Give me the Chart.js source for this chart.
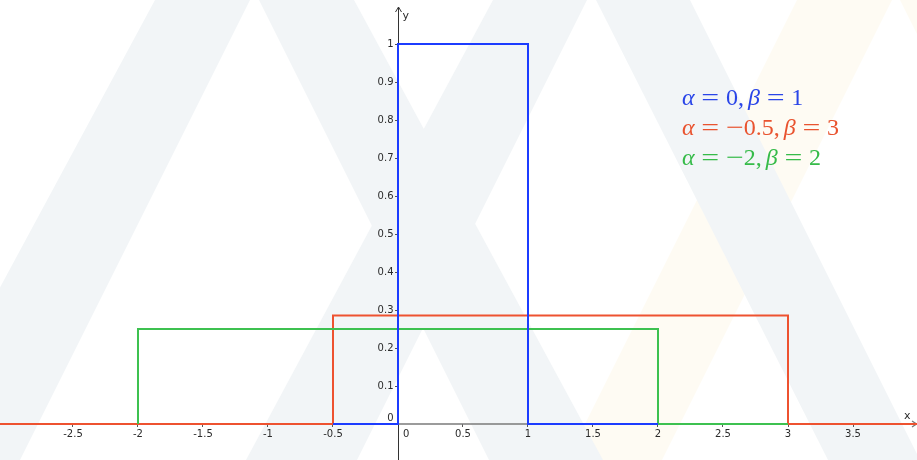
<!DOCTYPE html>
<html>
<head>
<meta charset="utf-8">
<script src="https://cdn.jsdelivr.net/npm/chart.js@4.4.1/dist/chart.umd.min.js"></script>
<style>
  html, body { margin: 0; padding: 0; background: #ffffff; }
  #wrap { width: 917px; height: 460px; position: relative; }
</style>
</head>
<body>
<div id="wrap"><canvas id="c"></canvas></div>
<script>
// ---- data ----
const seriesLabels = ['α = 0, β = 1', 'α = −0.5, β = 3', 'α = −2, β = 2'];
const alphaValues = [0, -0.5, -2];
const betaValues = [1, 3, 2];
// breakpoints of each drawn density path (x, y)
const blueX  = [-0.5, 0, 0, 1, 1, 2];
const blueY  = [0, 0, 1, 1, 0, 0];
const redX   = [-3.2, -0.5, -0.5, 3, 3, 4.2];
const redY   = [0, 0, 0.2857, 0.2857, 0, 0];
const greenX = [-2, -2, 2, 2, 3];
const greenY = [0, 0.25, 0.25, 0, 0];
const xTickValues = [-3, -2.5, -2, -1.5, -1, -0.5, 0, 0.5, 1, 1.5, 2, 2.5, 3, 3.5];
const yTickValues = [0, 0.1, 0.2, 0.3, 0.4, 0.5, 0.6, 0.7, 0.8, 0.9, 1];
const xRange = [-3.0615, 3.9923];
const yRange = [-0.0947, 1.1158];

// ---- styles ----
const lineColors = ['#1c3cff', '#ee5230', '#3dc150'];
const textColors = ['#2a45e8', '#e9532f', '#36bb49'];
const axisText = '#2b2b2b';
const tickFont = '10px "DejaVu Sans"';

function pts(xs, ys) { return xs.map((x, i) => ({ x: x, y: ys[i] })); }

const watermark = {
  id: 'watermark',
  beforeDraw(chart) {
    const ctx = chart.ctx, H = chart.height;
    ctx.save();
    ctx.fillStyle = '#ffffff';
    ctx.fillRect(0, 0, chart.width, H);
    // [topLeft, topRight, bottomRight, bottomLeft] x-positions at y=0 and y=H
    const cream = [[797, 892, 662, 567], [900, 995, 1225, 1130]];
    const gray = [[155, 250, 20, -93], [259, 354, 603, 489], [493, 587, 357, 246], [596, 690, 920, 828]];
    function band(b, col) {
      ctx.fillStyle = col;
      ctx.beginPath();
      ctx.moveTo(b[0], 0); ctx.lineTo(b[1], 0); ctx.lineTo(b[2], H); ctx.lineTo(b[3], H);
      ctx.closePath(); ctx.fill();
    }
    cream.forEach(b => band(b, '#fefbf3'));
    gray.forEach(b => band(b, '#f2f5f7'));
    ctx.restore();
  }
};

const axesPlugin = {
  id: 'axesPlugin',
  beforeDatasetsDraw(chart) {
    const ctx = chart.ctx, xs = chart.scales.x, ys = chart.scales.y;
    const x0 = Math.round(xs.getPixelForValue(0)) + 0.5;
    const y0 = ys.getPixelForValue(0);
    const ca = chart.chartArea;
    ctx.save();
    // x axis
    ctx.strokeStyle = '#7a7a7a'; ctx.lineWidth = 1.3;
    ctx.beginPath(); ctx.moveTo(ca.left, y0); ctx.lineTo(ca.right, y0); ctx.stroke();
    ctx.beginPath(); ctx.moveTo(ca.right - 5, y0 - 3); ctx.lineTo(ca.right - 0.5, y0); ctx.lineTo(ca.right - 5, y0 + 3); ctx.stroke();
    // y axis
    ctx.strokeStyle = '#333333'; ctx.lineWidth = 1;
    ctx.beginPath(); ctx.moveTo(x0, ca.top + 7); ctx.lineTo(x0, ca.bottom); ctx.stroke();
    ctx.beginPath(); ctx.moveTo(x0 - 3, ca.top + 12); ctx.lineTo(x0, ca.top + 7); ctx.lineTo(x0 + 3, ca.top + 12); ctx.stroke();
    // axis names
    ctx.fillStyle = axisText;
    ctx.font = '11px "DejaVu Sans"';
    ctx.textAlign = 'left'; ctx.textBaseline = 'alphabetic';
    ctx.fillText('y', x0 + 4, ca.top + 19);
    ctx.fillText('x', ca.right - 13, y0 - 5);
    // y tick labels
    ctx.font = tickFont;
    ctx.textAlign = 'right'; ctx.textBaseline = 'middle';
    yTickValues.forEach(v => {
      if (v === 0) return;
      ctx.fillText(String(v), x0 - 5, ys.getPixelForValue(v));
    });
    // origin labels
    ctx.fillText('0', x0 - 5, y0 - 6);
    ctx.textAlign = 'left';
    ctx.fillText('0', x0 + 4.5, y0 + 10);
    ctx.restore();
  }
};

function drawMath(ctx, str, x, y, size, color) {
  const up = size + 'px "Liberation Serif"';
  const it = 'italic ' + up;
  ctx.fillStyle = color;
  ctx.textAlign = 'left'; ctx.textBaseline = 'alphabetic';
  let cx = x;
  for (const ch of str) {
    if (ch === ' ') continue;
    if (ch === '=' || ch === '−') {
      if (ch === '=') cx += 0.28 * size;
      ctx.font = up;
      const w = ctx.measureText(ch).width;
      ctx.save(); ctx.translate(cx, y); ctx.scale(1.32, 1); ctx.fillText(ch, 0, 0); ctx.restore();
      cx += w * 1.32;
      if (ch === '=') cx += 0.28 * size;
      continue;
    }
    const italic = (ch === 'α' || ch === 'β');
    ctx.font = italic ? it : up;
    ctx.fillText(ch, cx, y);
    cx += ctx.measureText(ch).width;
    if (ch === ',') cx += 0.17 * size;
  }
}

const mathLegend = {
  id: 'mathLegend',
  afterDatasetsDraw(chart) {
    const ctx = chart.ctx;
    ctx.save();
    seriesLabels.forEach((lab, i) => {
      drawMath(ctx, lab, 682, 105 + i * 30, 24, textColors[i]);
    });
    ctx.restore();
  }
};

function tickVisible(v) { return v !== 0 && v !== -3; }

new Chart(document.getElementById('c'), {
  type: 'line',
  data: {
    datasets: [
      { label: seriesLabels[0], data: pts(blueX, blueY), borderColor: lineColors[0], order: 1 },
      { label: seriesLabels[1], data: pts(redX, redY), borderColor: lineColors[1], order: 3 },
      { label: seriesLabels[2], data: pts(greenX, greenY), borderColor: lineColors[2], order: 2 }
    ]
  },
  options: {
    responsive: true,
    maintainAspectRatio: false,
    animation: false,
    devicePixelRatio: 1,
    layout: { padding: 0 },
    elements: {
      line: { borderWidth: 2, tension: 0, fill: false, borderJoinStyle: 'miter', borderCapStyle: 'butt' },
      point: { radius: 0, hoverRadius: 0 }
    },
    plugins: { legend: { display: false }, tooltip: { enabled: false } },
    scales: {
      x: {
        type: 'linear',
        min: xRange[0], max: xRange[1],
        position: { y: 0 },
        afterBuildTicks(scale) { scale.ticks = xTickValues.map(v => ({ value: v })); },
        border: { display: false },
        grid: {
          drawOnChartArea: false, drawTicks: true, tickLength: 3,
          tickColor: c => (c.tick && tickVisible(c.tick.value)) ? '#555555' : 'rgba(0,0,0,0)'
        },
        ticks: {
          autoSkip: false, maxRotation: 0, padding: 1,
          color: axisText,
          font: { family: 'DejaVu Sans', size: 10 },
          callback: v => tickVisible(v) ? String(v) : null
        }
      },
      y: {
        type: 'linear',
        min: yRange[0], max: yRange[1],
        position: { x: 0 },
        afterBuildTicks(scale) { scale.ticks = yTickValues.map(v => ({ value: v })); },
        border: { display: false },
        grid: {
          drawOnChartArea: false, drawTicks: true, tickLength: 3,
          tickColor: c => (c.tick && c.tick.value !== 0) ? '#555555' : 'rgba(0,0,0,0)'
        },
        ticks: { display: false }
      }
    }
  },
  plugins: [watermark, axesPlugin, mathLegend]
});
</script>
</body>
</html>
